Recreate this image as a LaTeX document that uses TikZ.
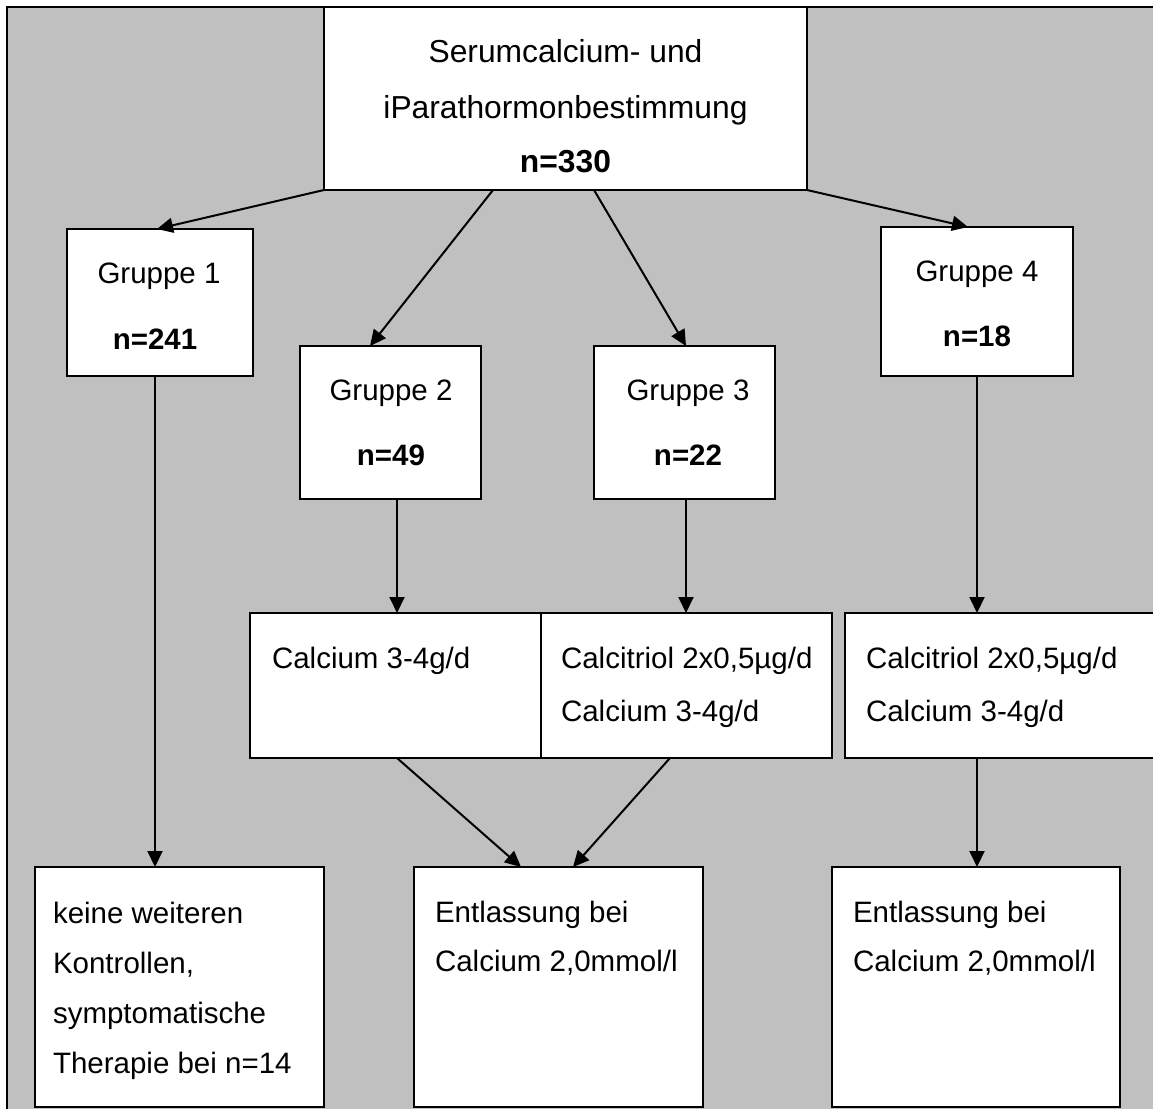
\documentclass[tikz,border=0pt]{standalone}
\usepackage{fontspec}
\setmainfont{Liberation Sans}
\usetikzlibrary{arrows.meta,calc}
\definecolor{bggray}{HTML}{C0C0C0}
\begin{document}
\begin{tikzpicture}[x=1pt,y=-1pt,
  box/.style={draw, line width=2pt, fill=white, inner sep=0pt, outer sep=0pt},
  arr/.style={draw, line width=2pt, -{Triangle[length=16pt,width=15pt]}},
  txt/.style={inner sep=0pt, outer sep=0pt, anchor=base west, font=\fontsize{29.5}{35}\selectfont},
  ctxt/.style={inner sep=0pt, outer sep=0pt, anchor=base, font=\fontsize{29.5}{35}\selectfont},
  bigtxt/.style={inner sep=0pt, outer sep=0pt, anchor=base, font=\fontsize{31.8}{38}\selectfont}]
\useasboundingbox (0,0) rectangle (1153,1108);
\clip (0,0) rectangle (1153,1108);
\fill[white] (0,0) rectangle (1153,1108);
\fill[bggray] (7,7) rectangle (1160,1115);
\draw[line width=2pt] (7,1115) -- (7,7) -- (1160,7);

% boxes
\node[box, minimum width=483pt, minimum height=183pt] (top) at (565.5,98.5) {};
\node[box, minimum width=186pt, minimum height=147pt] (g1) at (160,302.5) {};
\node[box, minimum width=181pt, minimum height=153pt] (g2) at (390.5,422.5) {};
\node[box, minimum width=181pt, minimum height=153pt] (g3) at (684.5,422.5) {};
\node[box, minimum width=192pt, minimum height=149pt] (g4) at (977,301.5) {};
\node[box, minimum width=291pt, minimum height=145pt] (ca) at (395.5,685.5) {};
\node[box, minimum width=291pt, minimum height=145pt] (ct) at (686.5,685.5) {};
\node[box, minimum width=315pt, minimum height=145pt] (ct4) at (1002.5,685.5) {};
\node[box, minimum width=289pt, minimum height=240pt] (b1) at (179.5,987) {};
\node[box, minimum width=289pt, minimum height=240pt] (b2) at (558.5,987) {};
\node[box, minimum width=288pt, minimum height=240pt] (b3) at (976,987) {};

% connectors
\draw[arr] (top.south west) -- ($(g1.north west)+(90,0)$);
\draw[arr] ($(top.south west)+(169,0)$) -- ($(g2.north west)+(70,0)$);
\draw[arr] ($(top.south west)+(270,0)$) -- ($(g3.north west)+(92,0)$);
\draw[arr] (top.south east) -- ($(g4.north west)+(87,0)$);
\draw[arr] ($(g1.south west)+(88,0)$) -- ($(b1.north west)+(120,0)$);
\draw[arr] ($(g2.south west)+(97,0)$) -- ($(ca.north west)+(147,0)$);
\draw[arr] ($(g3.south west)+(92,0)$) -- ($(ct.north west)+(145,0)$);
\draw[arr] (g4.south) -- ($(ct4.north west)+(132,0)$);
\draw[arr] ($(ca.south west)+(147,0)$) -- ($(b2.north west)+(107,0)$);
\draw[arr] ($(ct.south west)+(129,0)$) -- ($(b2.north west)+(159,0)$);
\draw[arr] ($(ct4.south west)+(132,0)$) -- ($(b3.north west)+(145,0)$);

% texts
\node[bigtxt] (t1) at (565.5,63) {Serumcalcium- und};
\node[bigtxt] (t2) at (565.5,118) {iParathormonbestimmung};
\node[bigtxt] (t3) at (565.5,172) {\bfseries n=330};

\node[ctxt] (g1a) at (159,283) {Gruppe 1};
\node[ctxt] (g1b) at (155,349) {\bfseries n=241};
\node[ctxt] (g2a) at (391,400) {Gruppe 2};
\node[ctxt] (g2b) at (391,465) {\bfseries n=49};
\node[ctxt] (g3a) at (688,400) {Gruppe 3};
\node[ctxt] (g3b) at (688,465) {\bfseries n=22};
\node[ctxt] (g4a) at (977,281) {Gruppe 4};
\node[ctxt] (g4b) at (977,346) {\bfseries n=18};

\node[txt] (caa) at (272,668) {Calcium 3-4g/d};
\node[txt] (cta) at (561,668) {Calcitriol 2x0,5µg/d};
\node[txt] (ctb) at (561,721) {Calcium 3-4g/d};
\node[txt] (c4a) at (866,668) {Calcitriol 2x0,5µg/d};
\node[txt] (c4b) at (866,721) {Calcium 3-4g/d};

\node[txt] (b1a) at (53,923) {keine weiteren};
\node[txt] (b1b) at (53,973) {Kontrollen,};
\node[txt] (b1c) at (53,1023) {symptomatische};
\node[txt] (b1d) at (53,1073) {Therapie bei n=14};
\node[txt] (b2a) at (435,922) {Entlassung bei};
\node[txt] (b2b) at (435,971) {Calcium 2,0mmol/l};
\node[txt] (b3a) at (853,922) {Entlassung bei};
\node[txt] (b3b) at (853,971) {Calcium 2,0mmol/l};
\end{tikzpicture}
\end{document}
